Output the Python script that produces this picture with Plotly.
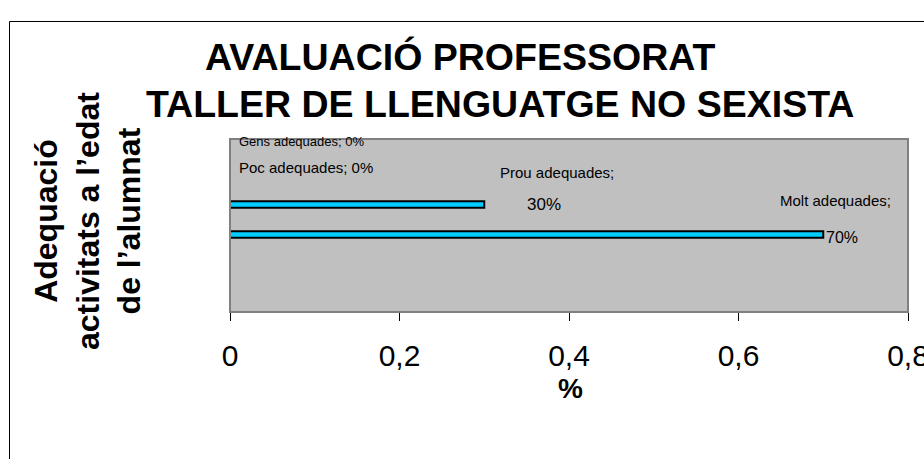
import plotly.graph_objects as go

# ---- data ----
categories = ["Gens adequades", "Poc adequades", "Prou adequades", "Molt adequades"]
values = [0, 0, 0.3, 0.7]
x_ticks = [0, 0.2, 0.4, 0.6, 0.8]

title_line1 = "AVALUACIÓ PROFESSORAT"
title_line2 = "TALLER DE LLENGUATGE NO SEXISTA"
y_title = "Adequació<br>activitats a l’edat<br>de l’alumnat"
x_title = "%"

FONT = "Arial, Liberation Sans, sans-serif"
W, H = 924, 459
L, R, T, B = 230, 16, 139, 147
PW, PH = W - L - R, H - T - B


def px(xp):
    return (xp - L) / PW


def py(yp):
    return (H - B - yp) / PH


fig = go.Figure()
fig.add_trace(go.Bar(
    x=values, y=categories, orientation="h",
    width=0.22,
    marker=dict(color="#00CCFF", line=dict(color="black", width=2)),
    hoverinfo="skip",
))

# data labels, anchored on bar ends
label_cfg = [
    dict(kind="single", dx=7, dy=3.5, size=13),
    dict(kind="single", dx=7, dy=7.5, size=15),
    dict(kind="split", ndx=14, ndy=32.5, nanchor="left", pdx=41, pdy=0.5, size=15, psize=17),
    dict(kind="split", ndx=70, ndy=34.5, nanchor="right", pdx=1, pdy=-2.5, size=15, psize=16),
]
annotations = []
for cat, v, cfg in zip(categories, values, label_cfg):
    pct = f"{round(v * 100)}%"
    if cfg["kind"] == "single":
        annotations.append(dict(
            x=v, y=cat, xref="x", yref="y", text=f"{cat}; {pct}",
            showarrow=False, xanchor="left", yanchor="middle",
            xshift=cfg["dx"], yshift=cfg["dy"],
            font=dict(family=FONT, size=cfg["size"], color="black")))
    else:
        annotations.append(dict(
            x=v, y=cat, xref="x", yref="y", text=f"{cat};",
            showarrow=False, xanchor=cfg["nanchor"], yanchor="middle",
            xshift=cfg["ndx"], yshift=cfg["ndy"],
            font=dict(family=FONT, size=cfg["size"], color="black")))
        annotations.append(dict(
            x=v, y=cat, xref="x", yref="y", text=pct,
            showarrow=False, xanchor="left", yanchor="middle",
            xshift=cfg["pdx"], yshift=cfg["pdy"],
            font=dict(family=FONT, size=cfg["psize"], color="black")))

# titles
annotations += [
    dict(x=px(460), y=py(57), xref="paper", yref="paper", text=f"<b>{title_line1}</b>",
         showarrow=False, xanchor="center", yanchor="middle",
         font=dict(family=FONT, size=37.5, color="black")),
    dict(x=px(500), y=py(104), xref="paper", yref="paper", text=f"<b>{title_line2}</b>",
         showarrow=False, xanchor="center", yanchor="middle",
         font=dict(family=FONT, size=37.5, color="black")),
    dict(x=px(87), y=py(221), xref="paper", yref="paper", text=f"<b>{y_title}</b>",
         showarrow=False, xanchor="center", yanchor="middle", textangle=-90,
         font=dict(family=FONT, size=32, color="black")),
    dict(x=px(570), y=py(388), xref="paper", yref="paper", text=f"<b>{x_title}</b>",
         showarrow=False, xanchor="center", yanchor="middle",
         font=dict(family=FONT, size=28, color="black")),
]

shapes = [
    # plot area border
    dict(type="rect", xref="paper", yref="paper", x0=0, y0=0, x1=1, y1=1,
         line=dict(color="#808080", width=2), layer="above"),
    # outer chart border
    dict(type="rect", xref="paper", yref="paper", x0=px(9.5), y0=py(470), x1=px(940), y1=py(21.5),
         line=dict(color="black", width=1), layer="above"),
]

fig.update_layout(
    width=W, height=H,
    margin=dict(l=L, r=R, t=T, b=B, autoexpand=False),
    paper_bgcolor="white", plot_bgcolor="#C0C0C0",
    separators=", ",
    showlegend=False,
    bargap=0.5,
    annotations=annotations,
    shapes=shapes,
    xaxis=dict(range=[0, 0.8], tickvals=x_ticks, showgrid=False, zeroline=False,
               automargin=False,
               showline=True, linecolor="black", linewidth=1,
               ticks="outside", ticklen=8, tickcolor="black", tickwidth=1,
               ticklabelstandoff=9, ticklabeloverflow="allow",
               tickfont=dict(family=FONT, size=30, color="black")),
    yaxis=dict(categoryorder="array", categoryarray=categories,
               automargin=False,
               range=[(H - B - 144.5) / 30, -(144.5 - T) / 30],
               showticklabels=False, showgrid=False, zeroline=False, ticks=""),
)

fig.write_html("out.html",
               config={"displayModeBar": False},
               post_script="document.body.style.margin='0';document.body.style.overflow='hidden';")
